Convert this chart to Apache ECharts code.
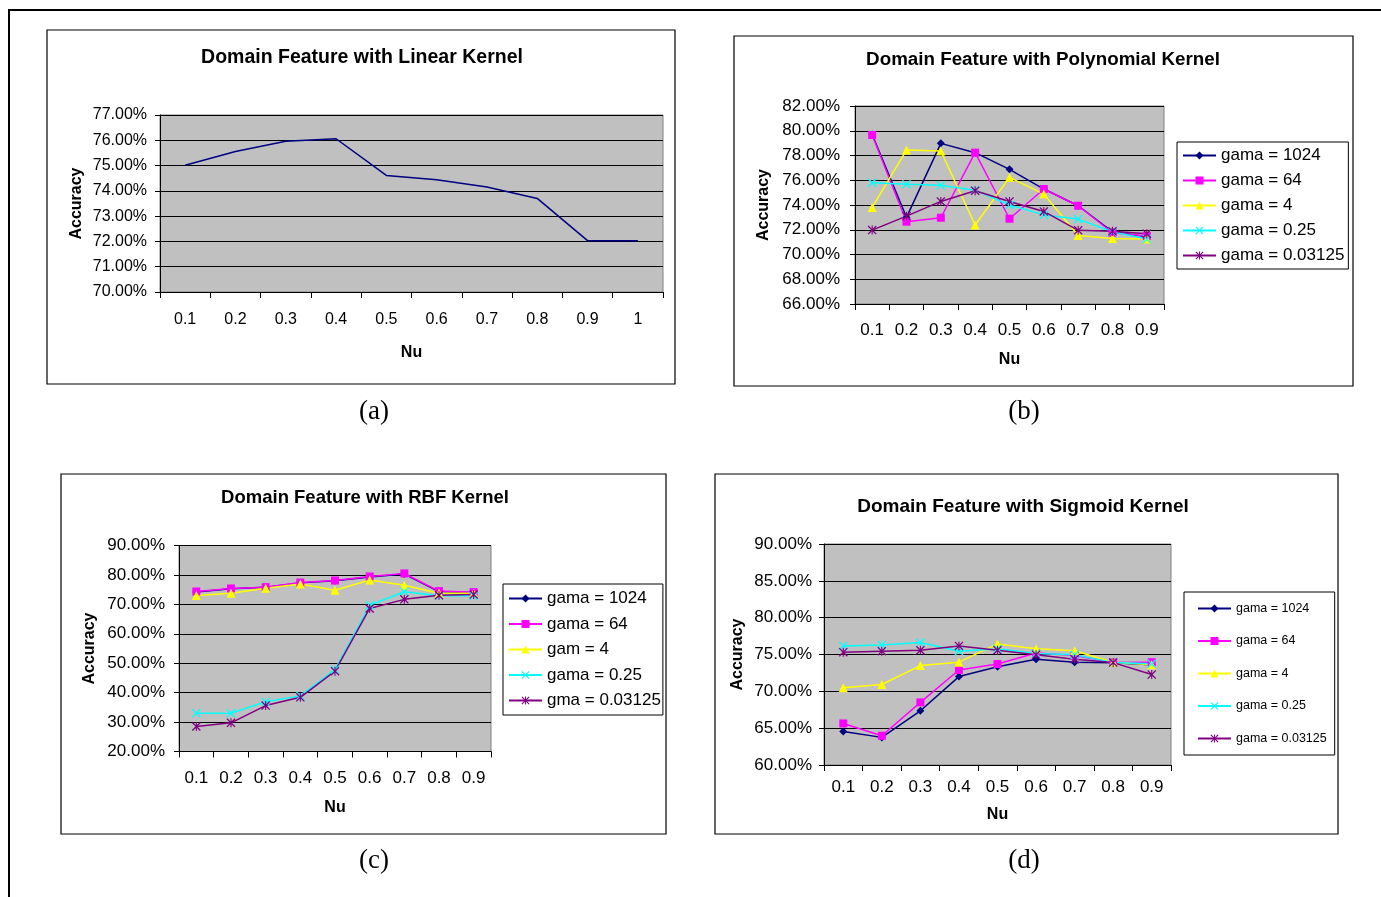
<!DOCTYPE html>
<html><head><meta charset="utf-8">
<script src="https://cdn.jsdelivr.net/npm/echarts@6/dist/echarts.min.js"></script>
<style>html,body{margin:0;padding:0;background:#fff}#c{width:1381px;height:897px}</style>
</head><body><div id="c"></div><script>
// ---------- data ----------
const nuLinear = ['0.1','0.2','0.3','0.4','0.5','0.6','0.7','0.8','0.9','1'];
const accLinear = [75.01,75.56,75.96,76.06,74.61,74.44,74.15,73.70,72.03,72.03];

const nu9 = ['0.1','0.2','0.3','0.4','0.5','0.6','0.7','0.8','0.9'];

const polyNames = ['gama = 1024','gama = 64','gama = 4','gama = 0.25','gama = 0.03125'];
const polyG1024 = [79.70,73.00,78.98,78.23,76.88,75.29,73.94,71.84,71.43];
const polyG64   = [79.66,72.65,72.97,78.23,72.89,75.29,73.94,71.76,71.49];
const polyG4    = [73.80,78.44,78.36,72.38,76.23,74.88,71.54,71.30,71.25];
const polyG025  = [75.80,75.67,75.59,75.20,74.00,73.20,72.86,71.84,71.25];
const polyG003  = [71.97,73.10,74.29,75.15,74.29,73.48,71.95,71.87,71.68];

const rbfNames = ['gama = 1024','gama = 64','gam = 4','gama = 0.25','gma = 0.03125'];
const rbfG1024 = [74.20,75.30,75.80,77.30,78.00,79.30,80.30,74.30,74.00];
const rbfG64   = [74.37,75.40,75.85,77.40,78.10,79.47,80.50,74.50,74.15];
const rbfG4    = [73.00,73.80,75.50,76.90,74.80,78.30,76.50,73.80,73.80];
const rbfG025  = [33.04,33.00,36.90,38.90,47.80,69.70,74.30,72.90,72.90];
const rbfG003  = [28.50,29.75,35.60,38.40,47.30,68.60,71.70,73.10,73.35];

const sigNames = ['gama = 1024','gama = 64','gama = 4','gama = 0.25','gama = 0.03125'];
const sigG1024 = [64.56,63.75,67.36,72.00,73.33,74.36,73.96,73.87,73.60];
const sigG64   = [65.64,63.97,68.50,72.90,73.70,75.20,74.86,73.90,73.96];
const sigG4    = [70.48,70.93,73.50,73.96,76.44,75.77,75.50,73.96,73.60];
const sigG025  = [76.17,76.30,76.62,75.45,75.77,75.13,74.95,73.90,73.73];
const sigG003  = [75.31,75.45,75.58,76.17,75.58,74.95,74.36,73.90,72.28];

const titles = ['Domain Feature with Linear Kernel','Domain Feature with Polynomial Kernel',
                'Domain Feature with RBF Kernel','Domain Feature with Sigmoid Kernel'];
const captions = ['(a)','(b)','(c)','(d)'];
const xName = 'Nu';
const yName = 'Accuracy';

// ---------- style ----------
const FONT = '"Liberation Sans", Arial, sans-serif';
const colors = ['#000080','#FF00FF','#FFFF00','#00FFFF','#800080'];
const xPath = 'path://M0,1L1,0L5,4L9,0L10,1L6,5L10,9L9,10L5,6L1,10L0,9L4,5Z';
const starPath = 'path://M0,1L1,0L5,4L9,0L10,1L6,5L10,9L9,10L5,6L1,10L0,9L4,5ZM4.4,0L5.6,0L5.6,10L4.4,10Z';
const symbols = ['diamond','rect','triangle',xPath,starPath];
const symSizes = [8,8,9,9,9];

const grids = [
  {left:160, top:115, width:503, height:177},
  {left:855, top:106, width:309, height:198},
  {left:179, top:545.5, width:312, height:206},
  {left:824, top:544, width:347, height:221}
];
const yRanges = [[70,77,1],[66,82,2],[20,90,10],[60,90,5]];
const yLabelMargins = [13,15,14,12];
const xLabelMargins = [20,17.5,18.5,13.5];
const nameGapsX = [53,48,48,42];
const nameGapsY = [75,83,81,78];
const tickFont = [16,17,17,17];

const option = {
  animation:false,
  backgroundColor:'#fff',
  textStyle:{fontFamily:FONT},
  grid: grids.map(g => Object.assign({show:true, backgroundColor:'#C0C0C0', borderColor:'#808080', borderWidth:1, containLabel:false}, g)),
  xAxis: grids.map((g,i) => ({
    type:'category', gridIndex:i, data: i===0 ? nuLinear : nu9, boundaryGap:true,
    name:xName, nameLocation:'middle', nameGap:nameGapsX[i],
    nameTextStyle:{fontWeight:'bold', fontSize:16, color:'#000', fontFamily:FONT},
    axisLine:{show:true, lineStyle:{color:'#000', width:1}},
    axisTick:{show:true, interval:0, length:6, alignWithLabel:false, lineStyle:{color:'#000'}},
    axisLabel:{interval:0, margin:xLabelMargins[i], fontSize:tickFont[i], color:'#000', fontFamily:FONT},
    splitLine:{show:false}
  })),
  yAxis: grids.map((g,i) => ({
    type:'value', gridIndex:i, min:yRanges[i][0], max:yRanges[i][1], interval:yRanges[i][2],
    name:yName, nameLocation:'middle', nameRotate:90, nameGap:nameGapsY[i],
    nameTextStyle:{fontWeight:'bold', fontSize:16, color:'#000', fontFamily:FONT},
    axisLine:{show:true, lineStyle:{color:'#000', width:1}},
    axisTick:{show:true, length:5, lineStyle:{color:'#000'}},
    axisLabel:{margin:yLabelMargins[i], fontSize:tickFont[i], color:'#000', fontFamily:FONT,
      formatter: v => v.toFixed(2) + '%'},
    splitLine:{show:true, lineStyle:{color:'#000', width:1}}
  })),
  legend: [
    {data:polyNames, orient:'vertical', left:1177, top:142, itemWidth:33, itemHeight:10, itemGap:8,
     padding:[5,4,5,5], borderColor:'#000', borderWidth:1, textStyle:{fontSize:17, color:'#000', fontFamily:FONT}},
    {data:rbfNames, orient:'vertical', left:503, top:584, itemWidth:33, itemHeight:10, itemGap:8.5,
     padding:[6,2,6,5], borderColor:'#000', borderWidth:1, textStyle:{fontSize:17, color:'#000', fontFamily:FONT}},
    {data:sigNames, orient:'vertical', left:1184, top:592, itemWidth:33, itemHeight:10, itemGap:19.5,
     padding:[10,8,10,13], borderColor:'#000', borderWidth:1, textStyle:{fontSize:12.5, color:'#000', fontFamily:FONT}}
  ],
  series: [],
  graphic: []
};

// linear
option.series.push({type:'line', name:'Linear', xAxisIndex:0, yAxisIndex:0, data:accLinear,
  symbol:'none', lineStyle:{color:'#000080', width:1.5}, itemStyle:{color:'#000080'}});

function addGroup(idx, names, arrs){
  arrs.forEach((arr,k) => {
    option.series.push({type:'line', name:names[k], xAxisIndex:idx, yAxisIndex:idx, data:arr,
      symbol:symbols[k], symbolSize:symSizes[k], showSymbol:true,
      lineStyle:{color:colors[k], width:1.5}, itemStyle:{color:colors[k], borderWidth:0},
      emphasis:{disabled:true}});
  });
}
addGroup(1, polyNames, [polyG1024,polyG64,polyG4,polyG025,polyG003]);
addGroup(2, rbfNames, [rbfG1024,rbfG64,rbfG4,rbfG025,rbfG003]);
addGroup(3, sigNames, [sigG1024,sigG64,sigG4,sigG025,sigG003]);

// frames
const boxes = [[47,30,628,354],[734,36,619,350],[61,474,605,360],[715,474,623,360]];
option.graphic.push({type:'rect', silent:true, shape:{x:9,y:10,width:1420,height:920}, style:{fill:'none', stroke:'#000', lineWidth:2}});
boxes.forEach(b => option.graphic.push({type:'rect', silent:true, shape:{x:b[0],y:b[1],width:b[2],height:b[3]}, style:{fill:'none', stroke:'#000', lineWidth:1.2}}));
const titlePos = [[362,58,19.5],[1043,60,18.8],[365,498,18.5],[1023,507,19]];
titles.forEach((t,i) => option.graphic.push({type:'text', silent:true, x:titlePos[i][0], y:titlePos[i][1],
  style:{text:t, fill:'#000', fontSize:titlePos[i][2], fontWeight:'bold', fontFamily:FONT, align:'center', verticalAlign:'middle'}}));
const capPos = [[374,412],[1024,412],[374,861],[1024,861]];
captions.forEach((c,i) => option.graphic.push({type:'text', silent:true, x:capPos[i][0], y:capPos[i][1],
  style:{text:c, fill:'#000', fontSize:27, fontFamily:'"Liberation Serif", "Times New Roman", serif', align:'center', verticalAlign:'middle'}}));

const chart = echarts.init(document.getElementById('c'));
chart.setOption(option);
</script></body></html>
